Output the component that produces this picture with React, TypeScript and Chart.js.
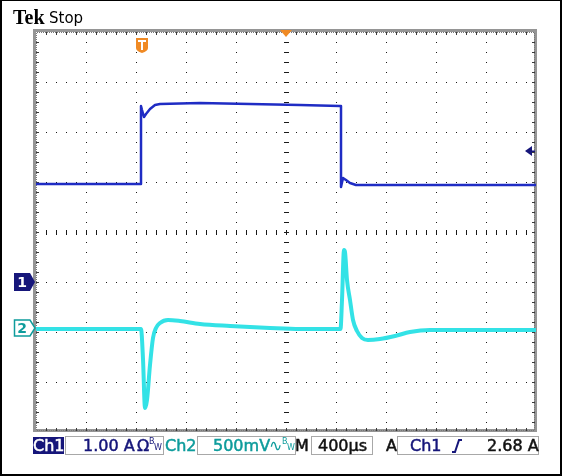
import React, { useEffect, useRef } from "react";
import { Chart, registerables } from "chart.js";

Chart.register(...registerables);

// Time in microseconds from the left edge of the screen (10 div x 400 µs)
const timeRangeUs = [0, 4000];
const divisionUs = 400;

// Channel 1: current in amps (1.00 A/div)
const ch1TimeUs = [0, 832, 840, 840, 848, 864, 880, 912, 952, 992, 1312, 1712, 2112, 2432, 2440, 2440, 2456, 2480, 2512, 2560, 2912, 4000];
const ch1Amps = [1.96, 1.96, 1.96, 3.52, 3.44, 3.3, 3.36, 3.46, 3.54, 3.56, 3.58, 3.56, 3.54, 3.52, 3.52, 1.9, 2.08, 2.04, 1.98, 1.94, 1.94, 1.94];
const ch1Range = [-3, 5];

// Channel 2: voltage in millivolts (500 mV/div)
const ch2TimeUs = [0, 840, 856, 872, 888, 912, 936, 960, 992, 1056, 1152, 1312, 1552, 1872, 2112, 2436, 2448, 2464, 2472, 2488, 2512, 2536, 2568, 2608, 2656, 2752, 2872, 2992, 3152, 4000];
const ch2MilliVolts = [-10, -10, -310, -800, -720, -370, -100, 0, 50, 80, 70, 40, 20, 0, -10, -10, 280, 780, 760, 480, 280, 80, -30, -100, -120, -110, -80, -40, -20, -20];
const ch2Range = [-1040, 2960];

const triggerLevelAmps = 2.68;
const triggerTimeUs = 848;
const centerTimeUs = 2000;
const centerAmps = 1;

const CH1_COLOR = "#1f2cc4";
const CH2_COLOR = "#33e2e6";
const NAVY = "#16167a";
const TEAL = "#0e9c9c";
const ORANGE = "#f08a24";

const graticulePlugin = {
  id: "graticule",
  beforeDatasetsDraw(chart: any) {
    const { ctx, chartArea: a, scales } = chart;
    const xs = scales.x;
    const ys = scales.y1;
    ctx.save();
    // frame
    ctx.strokeStyle = "#959595";
    ctx.lineWidth = 3;
    ctx.strokeRect(a.left - 1.5, a.top - 1.5, a.right - a.left + 1, a.bottom - a.top);
    ctx.fillStyle = "#1a1a1a";
    // vertical division lines (dotted)
    for (let t = timeRangeUs[0] + divisionUs; t < timeRangeUs[1]; t += divisionUs) {
      const x = Math.round(xs.getPixelForValue(t));
      for (let y = a.top + 10; y < a.bottom - 2; y += 10) ctx.fillRect(x, y, 1, 1);
    }
    // horizontal division lines (dotted)
    for (let v = ch1Range[0] + 1; v < ch1Range[1]; v += 1) {
      const y = Math.round(ys.getPixelForValue(v));
      for (let x = a.left + 10; x < a.right - 2; x += 10) ctx.fillRect(x, y, 1, 1);
    }
    // center cross minor ticks
    const cx = Math.round(xs.getPixelForValue(centerTimeUs));
    const cy = Math.round(ys.getPixelForValue(centerAmps));
    for (let x = a.left + 10; x < a.right - 2; x += 10) ctx.fillRect(x, cy - 2, 1, 5);
    for (let y = a.top + 10; y < a.bottom - 2; y += 10) ctx.fillRect(cx - 2, y, 5, 1);
    // frame minor ticks and dotted inner edge
    ctx.fillStyle = "#3a3a3a";
    for (let x = a.left + 10; x < a.right - 2; x += 10) {
      ctx.fillRect(x, a.top, 1, 3);
      ctx.fillRect(x, a.bottom - 4, 1, 3);
    }
    for (let y = a.top + 10; y < a.bottom - 2; y += 10) {
      ctx.fillRect(a.left, y, 3, 1);
      ctx.fillRect(a.right - 4, y, 3, 1);
    }
    ctx.fillStyle = "#777";
    for (let x = a.left + 1; x < a.right - 1; x += 2) {
      ctx.fillRect(x, a.top, 1, 1);
      ctx.fillRect(x, a.bottom - 2, 1, 1);
    }
    for (let y = a.top + 1; y < a.bottom - 2; y += 2) {
      ctx.fillRect(a.left, y, 1, 1);
      ctx.fillRect(a.right - 2, y, 1, 1);
    }
    ctx.restore();
  },
  afterDatasetsDraw(chart: any) {
    const { ctx, chartArea: a, scales } = chart;
    const xs = scales.x;
    const y1 = scales.y1;
    const y2 = scales.y2;
    ctx.save();
    // Ch1 ground marker
    const g1 = Math.round(y1.getPixelForValue(0));
    ctx.fillStyle = NAVY;
    ctx.beginPath();
    ctx.moveTo(14, g1 - 9);
    ctx.lineTo(30, g1 - 9);
    ctx.lineTo(35, g1);
    ctx.lineTo(30, g1 + 9);
    ctx.lineTo(14, g1 + 9);
    ctx.closePath();
    ctx.fill();
    ctx.fillStyle = "#fff";
    ctx.font = "bold 14px 'DejaVu Sans'";
    ctx.textAlign = "center";
    ctx.textBaseline = "middle";
    ctx.fillText("1", 22, g1 + 1);
    // Ch2 ground marker
    const g2 = Math.round(y2.getPixelForValue(0));
    ctx.fillStyle = "#fff";
    ctx.strokeStyle = TEAL;
    ctx.lineWidth = 1.5;
    ctx.beginPath();
    ctx.moveTo(14.5, g2 - 8);
    ctx.lineTo(30, g2 - 8);
    ctx.lineTo(35, g2);
    ctx.lineTo(30, g2 + 8);
    ctx.lineTo(14.5, g2 + 8);
    ctx.closePath();
    ctx.fill();
    ctx.stroke();
    ctx.fillStyle = TEAL;
    ctx.font = "bold 14px 'DejaVu Sans'";
    ctx.fillText("2", 22, g2 + 1);
    // trigger level arrow (right)
    const ty = Math.round(y1.getPixelForValue(triggerLevelAmps)) + 3;
    ctx.fillStyle = NAVY;
    ctx.beginPath();
    ctx.moveTo(a.right - 11, ty);
    ctx.lineTo(a.right - 4, ty - 5);
    ctx.lineTo(a.right - 4, ty + 5);
    ctx.closePath();
    ctx.fill();
    ctx.fillRect(a.right - 5, ty - 0.5, 4, 1.5);
    // trigger position "T" marker
    const tx = Math.round(xs.getPixelForValue(triggerTimeUs));
    ctx.fillStyle = ORANGE;
    ctx.beginPath();
    ctx.moveTo(tx - 6, a.top + 6);
    ctx.lineTo(tx + 6, a.top + 6);
    ctx.lineTo(tx + 6, a.top + 16);
    ctx.quadraticCurveTo(tx + 6, a.top + 19, tx, a.top + 21);
    ctx.quadraticCurveTo(tx - 6, a.top + 19, tx - 6, a.top + 16);
    ctx.closePath();
    ctx.fill();
    ctx.fillStyle = "#fff";
    ctx.fillRect(tx - 4, a.top + 8, 8, 2);
    ctx.fillRect(tx - 1, a.top + 8, 2, 10);
    // horizontal position triangle (top center)
    const cx = Math.round(xs.getPixelForValue(centerTimeUs));
    ctx.fillStyle = ORANGE;
    ctx.beginPath();
    ctx.moveTo(cx - 6, a.top - 2);
    ctx.lineTo(cx + 6, a.top - 2);
    ctx.lineTo(cx, a.top + 5);
    ctx.closePath();
    ctx.fill();
    ctx.restore();
  },
};

const font = "'DejaVu Sans', Verdana, sans-serif";

const abs = (left: number, top: number, extra: any = {}) => ({
  position: "absolute" as const,
  left,
  top,
  whiteSpace: "nowrap" as const,
  ...extra,
});

function Bw({ left, color }: { left: number; color: string }) {
  return (
    <span style={abs(left, 437, { width: 14, height: 17, color, fontFamily: font, fontSize: 8 })}>
      <span style={{ position: "absolute", left: 0, top: 0 }}>B</span>
      <span style={{ position: "absolute", left: 5, top: 6 }}>W</span>
    </span>
  );
}

export default function App() {
  const canvasRef = useRef<HTMLCanvasElement | null>(null);

  useEffect(() => {
    const canvas = canvasRef.current;
    if (!canvas) return;
    const chart = new Chart(canvas, {
      type: "line",
      data: {
        datasets: [
          {
            label: "Ch2",
            data: ch2TimeUs.map((t, i) => ({ x: t, y: ch2MilliVolts[i] })),
            yAxisID: "y2",
            borderColor: CH2_COLOR,
            borderWidth: 4,
            pointRadius: 0,
            cubicInterpolationMode: "monotone",
            borderJoinStyle: "round",
          },
          {
            label: "Ch1",
            data: ch1TimeUs.map((t, i) => ({ x: t, y: ch1Amps[i] })),
            yAxisID: "y1",
            borderColor: CH1_COLOR,
            borderWidth: 2.5,
            pointRadius: 0,
            tension: 0,
            borderJoinStyle: "round",
          },
        ],
      },
      options: {
        animation: false,
        responsive: false,
        maintainAspectRatio: false,
        events: [],
        layout: { padding: { left: 36, top: 32, right: 28, bottom: 44 } },
        plugins: { legend: { display: false }, tooltip: { enabled: false }, title: { display: false } },
        scales: {
          x: { type: "linear", min: timeRangeUs[0], max: timeRangeUs[1], display: false },
          y1: { type: "linear", min: ch1Range[0], max: ch1Range[1], display: false },
          y2: { type: "linear", min: ch2Range[0], max: ch2Range[1], display: false },
        },
      },
      plugins: [graticulePlugin],
    } as any);
    return () => chart.destroy();
  }, []);

  const txt = { fontFamily: font, fontSize: 16, lineHeight: "17px", WebkitTextStroke: "0.5px currentColor" };
  const box = (left: number, width: number) =>
    abs(left, 436, { width, height: 17, border: "1px solid #a8a8a8", boxSizing: "content-box" });

  return (
    <div style={{ position: "fixed", left: 0, top: 0, width: 564, height: 476, background: "#fff", overflow: "hidden" }}>
      <canvas ref={canvasRef} width={564} height={476} style={{ position: "absolute", left: 0, top: 0 }} />
      <div style={abs(0, 0, { width: 562, height: 476, borderLeft: "2px solid #000", borderTop: "1px solid #000", borderRight: "2px solid #000", borderBottom: "2px solid #000", boxSizing: "border-box" })} />
      <span style={abs(13, 6, { fontFamily: "'Liberation Serif', serif", fontWeight: "bold", fontSize: 20, color: "#000" })}>Tek</span>
      <span style={abs(49, 9, { fontFamily: font, fontSize: 15, color: "#000" })}>Stop</span>

      <span style={abs(33, 437, { ...txt, width: 31, height: 17, background: NAVY, color: "#fff", textAlign: "center" })}>Ch1</span>
      <span style={box(65, 97)} />
      <span style={abs(83, 437, { ...txt, color: NAVY })}>1.00 A</span>
      <span style={abs(137, 437, { ...txt, color: NAVY })}>Ω</span>
      <Bw left={149} color={NAVY} />
      <span style={abs(165, 437, { ...txt, color: TEAL })}>Ch2</span>
      <span style={box(197, 97)} />
      <span style={abs(213, 437, { ...txt, color: TEAL })}>500mV</span>
      <span style={abs(269, 437, { ...txt, color: TEAL, WebkitTextStroke: "0" })}>∿</span>
      <Bw left={282} color={TEAL} />
      <span style={abs(295, 437, { ...txt, color: "#111" })}>M</span>
      <span style={box(311, 60)} />
      <span style={abs(318, 437, { ...txt, color: "#111" })}>400µs</span>
      <span style={abs(386, 437, { ...txt, color: "#111" })}>A</span>
      <span style={box(397, 140)} />
      <span style={abs(410, 437, { ...txt, color: NAVY })}>Ch1</span>
      <svg style={abs(451, 439)} width={12} height={14}>
        <polyline points="1,13 4,13 8,1 11,1" fill="none" stroke={NAVY} strokeWidth={2} />
      </svg>
      <span style={abs(487, 437, { ...txt, color: "#111" })}>2.68 A</span>
    </div>
  );
}
